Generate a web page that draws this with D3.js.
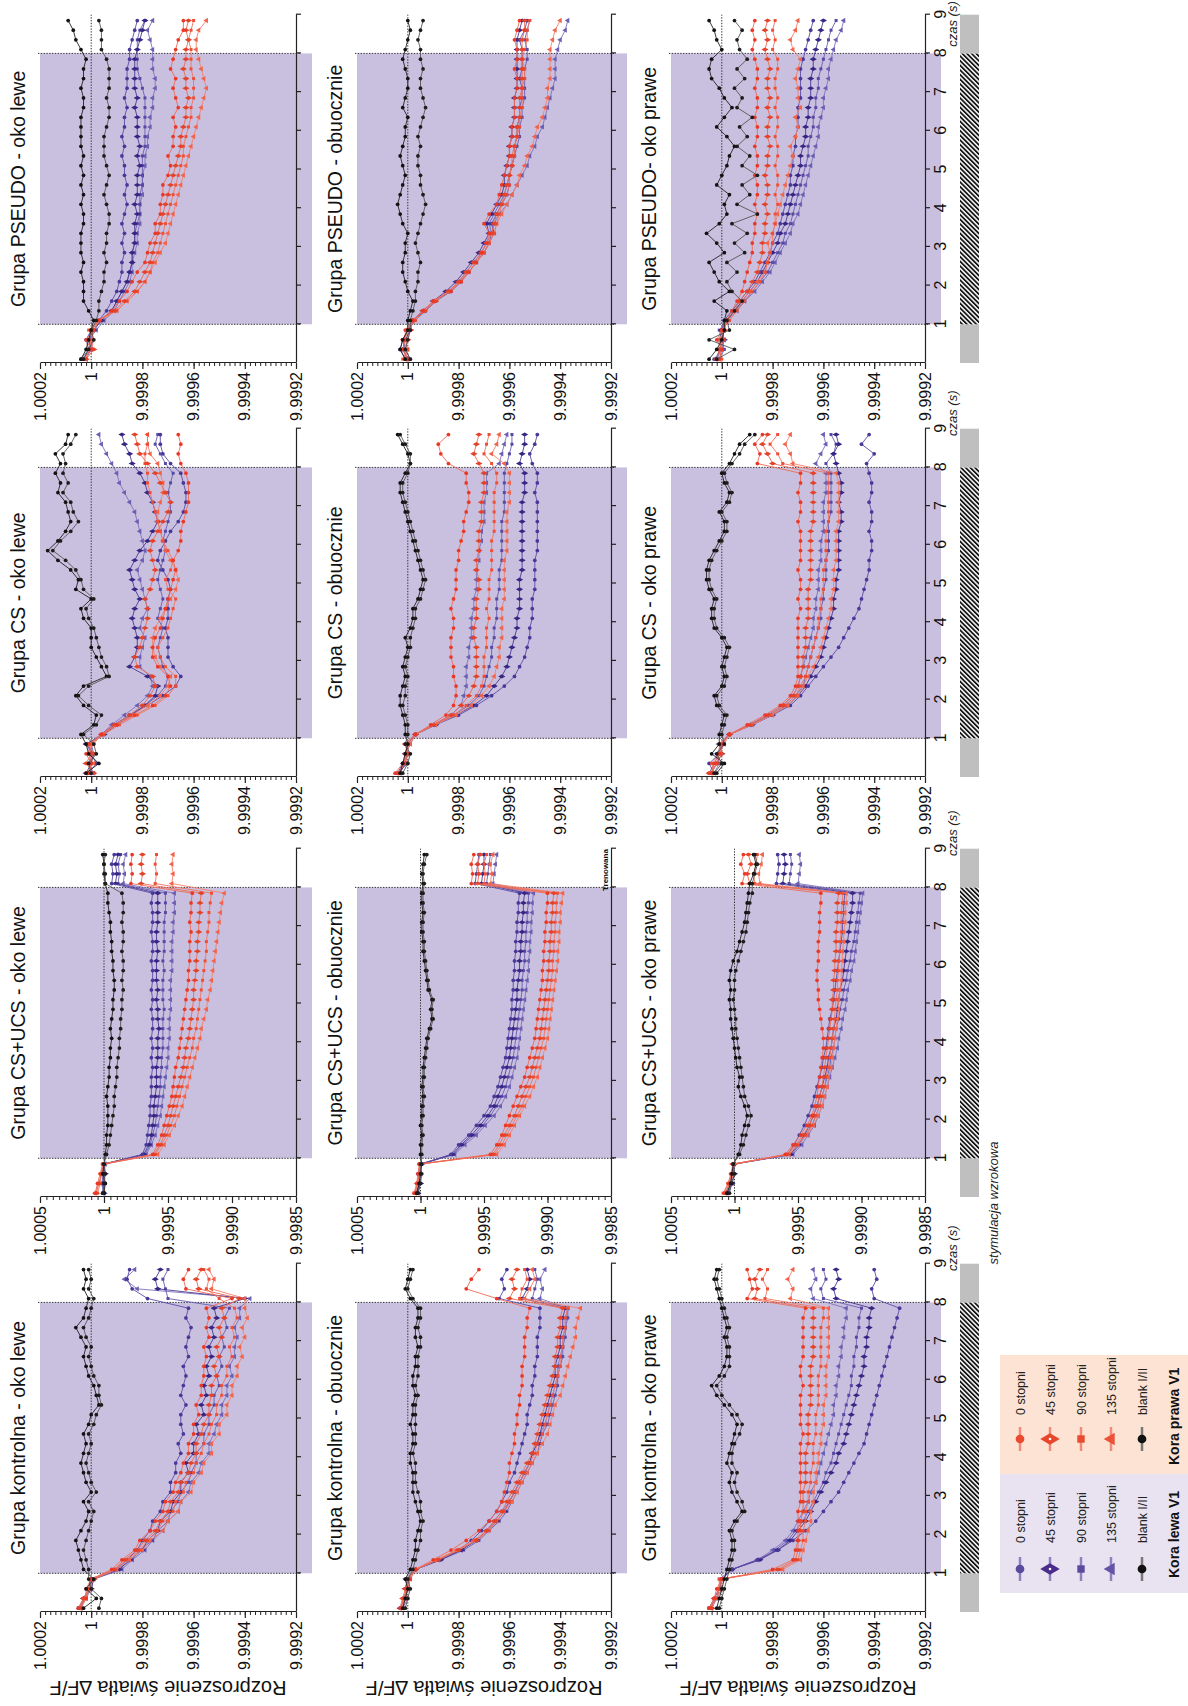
<!DOCTYPE html>
<html lang="pl">
<head>
<meta charset="utf-8">
<script src="https://cdn.jsdelivr.net/npm/d3@7/dist/d3.min.js"></script>
<style>
html,body{margin:0;padding:0;background:#fff;}
svg{display:block;}
text{font-family:"Liberation Sans",Arial,Helvetica,sans-serif;}
</style>
</head>
<body>
<svg id="chart" width="1188" height="1706"></svg>
<script>
// ---------- DATA ----------
const times = [0.1,0.35,0.6,0.85,1.1,1.35,1.6,1.85,2.1,2.35,2.6,2.85,3.1,3.35,3.6,3.85,4.1,4.35,4.6,4.85,5.1,5.35,5.6,5.85,6.1,6.35,6.6,6.85,7.1,7.35,7.6,7.85,8.1,8.35,8.6,8.85];
const panelTitles = [
  ["Grupa kontrolna - oko lewe","Grupa kontrolna - obuocznie","Grupa kontrolna - oko prawe"],
  ["Grupa CS+UCS - oko lewe","Grupa CS+UCS - obuocznie","Grupa CS+UCS - oko prawe"],
  ["Grupa CS - oko lewe","Grupa CS - obuocznie","Grupa CS - oko prawe"],
  ["Grupa PSEUDO - oko lewe","Grupa PSEUDO - obuocznie","Grupa PSEUDO- oko prawe"]
];
const smallTicks = [1.0002,1,0.9998,0.9996,0.9994,0.9992];
const smallTickLabels = ["1.0002","1","9.9998","9.9996","9.9994","9.9992"];
const largeTicks = [1.0005,1,0.9995,0.9990,0.9985];
const largeTickLabels = ["1.0005","1","9.9995","9.9990","9.9985"];
const timeTicks = [1,2,3,4,5,6,7,8,9];
const timeTickLabels = ["1","2","3","4","5","6","7","8","9"];
const legendLabels = ["0 stopni","45 stopni","90 stopni","135 stopni","blank I/II"];
const cortexNames = ["Kora lewa V1","Kora prawa V1"];
const yTitle = "Rozproszenie światła ∆F/F";

// Series values: deviation from 1 in units of 1e-5 (value = 1 + v*1e-5)
// order: L 0°, L 45°, L 90°, L 135°, L blank, R 0°, R 45°, R 90°, R 135°, R blank
const kontrolna_lewe = [
[5,3,1,-1,-10,-14,-18,-20,-23,-24,-27,-28,-31,-31,-33,-33,-35,-34,-36,-35,-35,-37,-35,-36,-37,-36,-38,-37,-38,-39,-37,-38,-22,-16,-14,-15],
[4,3,0,-1,-11,-15,-20,-22,-26,-27,-31,-32,-35,-35,-38,-37,-40,-40,-42,-41,-44,-43,-45,-44,-46,-45,-47,-46,-48,-47,-49,-48,-60,-26,-25,-27],
[5,2,1,0,-10,-16,-19,-24,-26,-30,-31,-34,-35,-38,-39,-41,-41,-44,-44,-46,-46,-48,-48,-50,-49,-51,-50,-52,-51,-53,-52,-54,-30,-29,-28,-30],
[4,2,0,-1,-12,-16,-21,-24,-28,-30,-34,-35,-38,-39,-42,-43,-46,-46,-48,-49,-51,-51,-53,-53,-55,-54,-56,-56,-57,-56,-58,-58,-62,-18,-13,-17],
[3,-2,2,-1,3,4,5,6,4,2,1,3,0,2,3,4,3,2,3,1,0,-3,-2,-1,1,2,3,2,4,6,3,2,1,3,2,3],
[5,2,2,0,-8,-12,-17,-19,-23,-25,-28,-29,-32,-33,-35,-36,-38,-38,-40,-40,-42,-41,-43,-43,-44,-44,-45,-44,-46,-45,-46,-45,-55,-37,-36,-38],
[4,3,1,-1,-9,-13,-18,-21,-25,-27,-30,-31,-34,-35,-38,-39,-41,-41,-43,-44,-46,-46,-47,-47,-49,-48,-50,-49,-51,-50,-52,-51,-58,-42,-41,-43],
[5,3,0,0,-9,-14,-19,-22,-26,-28,-32,-33,-36,-37,-40,-41,-43,-44,-46,-47,-49,-49,-51,-51,-53,-53,-55,-54,-56,-55,-57,-56,-50,-45,-46,-44],
[4,2,1,-1,-10,-15,-20,-23,-28,-30,-34,-35,-39,-40,-43,-44,-47,-47,-50,-50,-53,-53,-55,-55,-57,-57,-59,-58,-60,-59,-61,-60,-60,-47,-48,-46],
[-3,-4,0,1,1,2,3,2,1,0,-1,1,-2,0,1,2,1,0,1,-1,-2,-4,-3,-3,-1,0,1,0,2,3,1,0,-1,1,0,1]
];
const kontrolna_obuocznie = [
[2,1,0,0,-3,-12,-20,-25,-29,-32,-35,-37,-39,-40,-42,-43,-44,-45,-46,-47,-47,-48,-49,-49,-50,-50,-51,-51,-51,-52,-52,-52,-36,-38,-37,-39],
[3,1,1,0,-3,-13,-21,-27,-31,-35,-38,-40,-42,-44,-46,-48,-49,-51,-52,-53,-54,-55,-56,-57,-58,-58,-59,-60,-60,-61,-61,-62,-45,-47,-48,-47],
[2,0,1,0,-3,-13,-22,-28,-32,-36,-39,-41,-43,-45,-47,-49,-51,-52,-53,-55,-56,-57,-58,-59,-59,-60,-61,-61,-62,-62,-63,-63,-49,-50,-51,-50],
[3,2,0,1,-3,-12,-21,-27,-31,-34,-37,-40,-42,-44,-46,-48,-49,-51,-52,-54,-55,-56,-57,-58,-59,-59,-60,-61,-61,-62,-62,-63,-52,-53,-52,-54],
[2,1,0,1,-1,-2,-3,-3,-4,-5,-4,-3,-2,-2,-2,-1,-1,-2,-2,-1,-2,-2,-3,-2,-2,-3,-3,-4,-3,-3,-4,-4,-1,1,0,-1],
[3,1,0,-1,-3,-10,-17,-23,-28,-32,-35,-37,-38,-39,-40,-40,-41,-42,-42,-43,-43,-44,-44,-45,-45,-45,-46,-46,-46,-47,-47,-48,-35,-23,-25,-28],
[2,2,1,0,-3,-12,-20,-27,-31,-34,-37,-39,-41,-43,-45,-47,-49,-50,-51,-52,-53,-54,-55,-56,-57,-58,-58,-59,-59,-60,-60,-61,-40,-42,-41,-43],
[3,2,0,0,-3,-12,-20,-27,-32,-35,-38,-40,-42,-44,-46,-48,-50,-51,-53,-54,-55,-56,-57,-58,-59,-60,-60,-61,-61,-62,-62,-63,-44,-45,-47,-46],
[2,1,1,-1,-3,-11,-19,-26,-31,-35,-38,-41,-43,-45,-47,-49,-51,-53,-55,-56,-57,-58,-60,-61,-62,-63,-64,-65,-66,-66,-67,-68,-46,-48,-50,-49],
[1,0,-1,0,-2,-3,-4,-5,-5,-6,-5,-5,-4,-3,-3,-3,-2,-3,-3,-3,-3,-3,-4,-3,-4,-4,-4,-5,-5,-4,-5,-5,-2,0,-1,-2]
];
const kontrolna_prawe = [
[5,3,1,0,-4,-14,-22,-28,-33,-37,-40,-43,-46,-48,-50,-52,-54,-56,-57,-58,-59,-60,-61,-62,-63,-64,-65,-66,-67,-68,-69,-70,-60,-59,-61,-60],
[4,2,1,0,-4,-15,-22,-27,-30,-33,-35,-37,-39,-41,-43,-45,-46,-48,-49,-50,-51,-52,-53,-54,-55,-56,-56,-57,-57,-58,-58,-59,-45,-44,-46,-45],
[5,2,0,1,-4,-15,-21,-26,-29,-32,-34,-36,-38,-40,-41,-43,-44,-45,-46,-47,-48,-49,-50,-51,-51,-52,-52,-53,-53,-54,-54,-55,-40,-39,-41,-40],
[4,3,1,0,-4,-14,-20,-25,-28,-30,-32,-34,-35,-37,-38,-39,-40,-41,-42,-43,-44,-44,-45,-45,-46,-46,-47,-47,-48,-48,-49,-49,-36,-35,-37,-36],
[2,1,0,-1,-2,-3,-4,-4,-3,-5,-8,-6,-4,-3,-4,-2,-3,-4,-5,-6,-4,-1,2,4,1,-1,-2,-2,-1,-2,-1,0,1,2,3,2],
[5,3,2,0,-20,-28,-29,-30,-30,-30,-30,-31,-31,-31,-31,-31,-31,-31,-32,-31,-31,-31,-31,-32,-31,-31,-32,-32,-32,-32,-32,-33,-10,-12,-11,-10],
[4,3,1,0,-22,-29,-30,-30,-31,-31,-32,-32,-32,-33,-33,-33,-33,-34,-34,-34,-34,-35,-35,-35,-35,-35,-36,-36,-36,-36,-36,-36,-13,-14,-13,-15],
[5,2,1,1,-23,-30,-31,-32,-32,-33,-33,-34,-34,-35,-35,-36,-36,-36,-37,-37,-37,-38,-38,-38,-38,-39,-39,-39,-39,-39,-40,-40,-17,-18,-16,-18],
[4,2,0,0,-24,-31,-32,-33,-34,-35,-35,-36,-36,-37,-37,-38,-38,-39,-39,-40,-40,-40,-41,-41,-41,-41,-42,-42,-42,-42,-42,-42,-27,-28,-26,-28],
[1,0,-1,-2,-3,-4,-5,-5,-4,-6,-9,-8,-6,-5,-6,-4,-4,-5,-7,-8,-6,-3,0,2,-1,-3,-3,-3,-2,-3,-2,-1,0,1,2,1]
];
const csucs_lewe = [
[1,0,2,0,-30,-33,-34,-35,-36,-36,-37,-37,-37,-38,-37,-38,-37,-38,-38,-37,-38,-37,-38,-38,-37,-38,-38,-37,-38,-38,-37,-38,-6,-7,-6,-8],
[0,1,-1,0,-31,-35,-37,-38,-39,-39,-40,-41,-41,-41,-42,-42,-42,-43,-42,-42,-41,-42,-41,-41,-41,-42,-41,-41,-42,-42,-42,-42,-9,-10,-9,-11],
[1,-1,0,1,-32,-36,-38,-40,-41,-42,-43,-44,-44,-45,-45,-46,-46,-46,-46,-47,-46,-46,-46,-47,-46,-47,-47,-47,-47,-48,-48,-48,-11,-12,-11,-13],
[0,2,0,-1,-33,-37,-40,-42,-44,-45,-46,-47,-48,-49,-50,-50,-51,-51,-51,-52,-52,-52,-52,-53,-53,-53,-53,-54,-54,-55,-55,-55,-15,-16,-15,-17],
[0,-1,1,0,-1,-2,-2,-3,-3,-3,-2,-3,-4,-4,-5,-5,-6,-5,-6,-7,-7,-8,-8,-7,-7,-6,-6,-5,-5,-4,-3,-3,-1,0,0,1],
[7,5,3,1,-38,-42,-45,-47,-49,-51,-53,-54,-55,-56,-58,-59,-60,-61,-62,-63,-64,-65,-66,-66,-67,-67,-67,-68,-67,-68,-68,-69,-21,-22,-21,-22],
[6,4,2,0,-39,-44,-47,-50,-52,-54,-56,-58,-60,-62,-63,-64,-66,-67,-68,-69,-70,-70,-71,-72,-72,-73,-73,-74,-74,-75,-75,-76,-29,-30,-29,-30],
[5,3,2,1,-40,-45,-49,-52,-55,-57,-59,-61,-63,-65,-67,-69,-70,-72,-73,-74,-75,-76,-77,-78,-79,-80,-80,-81,-82,-82,-83,-84,-40,-41,-40,-41],
[7,4,2,0,-42,-47,-51,-55,-58,-61,-63,-65,-67,-69,-71,-73,-75,-76,-78,-80,-81,-83,-84,-85,-86,-87,-88,-89,-90,-91,-92,-94,-53,-54,-53,-54],
[1,0,-1,0,-2,-4,-5,-6,-7,-8,-8,-9,-10,-10,-11,-12,-12,-13,-13,-14,-14,-15,-14,-15,-15,-14,-15,-15,-14,-15,-15,-14,-1,-1,0,-1]
];
const csucs_obuocznie = [
[3,1,2,0,-24,-30,-38,-44,-50,-55,-58,-61,-63,-65,-67,-68,-69,-70,-71,-72,-72,-73,-73,-74,-74,-75,-75,-76,-76,-77,-77,-78,-43,-44,-45,-46],
[2,0,1,-1,-25,-32,-40,-47,-53,-58,-61,-64,-66,-68,-70,-71,-72,-73,-74,-75,-76,-76,-77,-78,-78,-79,-79,-80,-80,-81,-81,-82,-48,-49,-50,-50],
[3,1,0,1,-26,-33,-42,-49,-55,-60,-64,-67,-69,-71,-73,-74,-75,-76,-77,-78,-79,-80,-80,-81,-82,-82,-83,-83,-84,-84,-85,-85,-52,-53,-54,-55],
[2,2,0,0,-27,-35,-44,-51,-58,-63,-67,-70,-72,-74,-76,-77,-78,-79,-80,-81,-82,-83,-84,-85,-85,-86,-86,-87,-87,-88,-88,-89,-57,-58,-59,-60],
[3,1,0,-1,0,0,-1,0,-1,-1,-2,-1,-2,-2,-3,-4,-5,-7,-9,-8,-9,-6,-5,-4,-3,-2,-2,-1,-1,-2,-1,-1,-2,-1,-2,-3],
[5,3,2,1,-55,-60,-64,-67,-70,-73,-76,-79,-82,-84,-86,-88,-90,-91,-92,-93,-94,-95,-96,-96,-97,-97,-98,-98,-99,-99,-100,-100,-40,-41,-40,-42],
[4,2,1,0,-57,-62,-66,-70,-74,-77,-80,-83,-86,-88,-90,-92,-94,-95,-96,-97,-98,-99,-100,-101,-101,-102,-102,-103,-103,-104,-104,-105,-45,-46,-45,-47],
[5,2,0,1,-58,-64,-68,-72,-76,-80,-83,-86,-89,-91,-93,-95,-97,-98,-99,-100,-101,-102,-103,-104,-104,-105,-105,-106,-106,-107,-107,-108,-50,-51,-50,-52],
[4,3,1,0,-60,-66,-70,-74,-78,-82,-86,-89,-92,-94,-96,-98,-100,-101,-102,-103,-104,-105,-106,-107,-108,-108,-109,-109,-110,-110,-111,-112,-55,-56,-55,-57],
[2,0,-1,0,-1,-1,-2,-1,-2,-2,-3,-2,-3,-3,-4,-5,-6,-8,-10,-9,-10,-7,-6,-5,-4,-3,-3,-2,-2,-3,-2,-2,-3,-2,-3,-5]
];
const csucs_prawe = [
[6,3,1,0,-42,-47,-51,-55,-58,-61,-63,-65,-67,-69,-70,-72,-73,-74,-75,-77,-78,-79,-80,-81,-82,-83,-84,-85,-85,-86,-86,-87,-33,-34,-35,-34],
[5,2,0,1,-44,-50,-55,-59,-62,-65,-67,-69,-71,-73,-74,-76,-77,-78,-80,-81,-82,-83,-85,-86,-87,-88,-89,-90,-91,-92,-93,-93,-38,-39,-40,-39],
[7,4,2,1,-45,-51,-56,-61,-64,-67,-69,-71,-73,-75,-76,-78,-79,-80,-82,-83,-85,-86,-88,-89,-91,-92,-94,-95,-96,-97,-98,-99,-43,-44,-45,-44],
[6,2,1,0,-46,-53,-58,-63,-66,-69,-71,-73,-75,-77,-79,-81,-82,-84,-85,-87,-88,-89,-91,-92,-94,-95,-96,-97,-98,-99,-100,-101,-50,-51,-52,-51],
[6,3,2,1,-3,-5,-6,-8,-10,-8,-5,-3,-4,-2,-1,0,1,2,3,3,4,3,4,3,1,-2,-4,-6,-8,-9,-10,-11,-12,-15,-17,-15],
[8,5,3,1,-40,-46,-52,-57,-61,-63,-65,-66,-67,-68,-69,-70,-70,-69,-68,-67,-66,-66,-65,-65,-66,-66,-66,-67,-67,-67,-68,-68,-6,-8,-5,-7],
[7,4,2,0,-41,-48,-54,-59,-62,-65,-67,-69,-70,-71,-72,-73,-74,-75,-76,-77,-77,-78,-78,-79,-79,-80,-80,-80,-81,-81,-81,-82,-12,-10,-13,-11],
[9,5,2,1,-42,-49,-56,-61,-64,-67,-69,-71,-72,-74,-75,-76,-77,-78,-79,-79,-80,-81,-81,-82,-82,-83,-83,-84,-84,-84,-85,-85,-16,-15,-17,-18],
[7,3,1,2,-43,-50,-57,-62,-66,-69,-71,-73,-74,-76,-77,-78,-79,-80,-81,-82,-82,-83,-84,-84,-85,-85,-86,-86,-87,-87,-88,-88,-20,-19,-21,-22],
[4,2,0,1,-4,-7,-9,-11,-13,-11,-8,-7,-6,-5,-4,-3,-2,-1,-1,0,1,0,0,-1,-3,-5,-7,-9,-10,-11,-12,-14,-14,-16,-18,-16]
];
const cs_lewe = [
[1,-2,0,1,-5,-9,-15,-22,-28,-33,-35,-32,-30,-30,-30,-29,-30,-30,-30,-31,-30,-28,-26,-27,-29,-31,-34,-36,-37,-37,-36,-35,-31,-28,-27,-27],
[2,0,-1,2,-5,-10,-16,-21,-25,-26,-22,-15,-17,-18,-18,-17,-16,-17,-19,-17,-16,-15,-17,-19,-22,-24,-26,-25,-24,-22,-21,-19,-16,-15,-13,-12],
[0,1,-1,0,-4,-9,-15,-21,-26,-29,-30,-28,-27,-26,-27,-28,-26,-27,-28,-27,-26,-27,-28,-29,-28,-29,-30,-31,-31,-30,-31,-32,-29,-27,-25,-26],
[-1,1,0,2,-4,-8,-13,-18,-22,-24,-23,-19,-19,-20,-21,-19,-20,-22,-21,-20,-19,-18,-20,-21,-20,-19,-18,-17,-15,-13,-11,-10,-8,-6,-4,-3],
[2,-3,1,2,4,-1,-2,3,6,3,-6,-4,-2,0,0,0,3,4,0,6,5,8,13,17,13,10,8,9,10,13,12,14,12,14,10,9],
[1,0,2,-1,-4,-10,-17,-24,-29,-31,-30,-26,-24,-24,-25,-27,-28,-29,-30,-31,-32,-33,-32,-34,-35,-35,-36,-37,-38,-38,-38,-37,-35,-34,-35,-34],
[-1,2,0,1,-4,-9,-15,-20,-23,-25,-24,-18,-17,-19,-20,-21,-22,-22,-21,-23,-24,-25,-24,-23,-24,-26,-28,-30,-31,-29,-27,-25,-22,-19,-18,-17],
[0,1,-1,1,-5,-11,-18,-25,-30,-33,-33,-29,-27,-26,-28,-30,-31,-32,-33,-30,-29,-31,-32,-30,-28,-27,-26,-25,-24,-23,-22,-22,-21,-21,-22,-22],
[2,-1,1,0,-4,-10,-16,-22,-27,-30,-31,-27,-25,-24,-24,-25,-27,-29,-31,-33,-34,-33,-31,-29,-28,-27,-26,-26,-27,-28,-28,-27,-26,-23,-22,-22],
[0,1,-2,-1,3,-2,-4,1,5,1,-7,-6,-4,-3,-2,-1,1,2,-1,3,4,6,10,15,12,8,5,7,8,11,9,11,10,11,8,6]
];
const cs_obuocznie = [
[4,2,0,1,-3,-11,-20,-27,-33,-38,-42,-44,-46,-47,-48,-48,-49,-49,-49,-50,-50,-50,-50,-51,-51,-51,-51,-51,-51,-50,-51,-51,-49,-48,-50,-51],
[3,1,1,0,-3,-11,-19,-26,-31,-34,-37,-39,-40,-41,-42,-43,-43,-44,-44,-44,-44,-45,-45,-45,-45,-45,-45,-45,-45,-46,-46,-46,-44,-45,-46,-46],
[4,0,1,-1,-3,-10,-18,-24,-28,-30,-31,-32,-33,-33,-34,-34,-35,-35,-35,-36,-36,-36,-37,-37,-37,-37,-37,-38,-38,-38,-38,-38,-39,-40,-41,-41],
[3,2,0,0,-3,-10,-17,-21,-22,-23,-23,-23,-24,-24,-25,-25,-25,-26,-26,-27,-27,-27,-28,-28,-29,-29,-30,-30,-30,-31,-31,-31,-36,-37,-38,-39],
[3,2,1,0,1,1,2,3,3,2,1,2,1,0,1,-1,-2,-2,-4,-5,-6,-5,-4,-3,-2,-1,0,1,2,3,3,1,-1,0,2,4],
[5,2,1,0,-3,-9,-15,-18,-19,-19,-18,-18,-17,-17,-17,-18,-18,-17,-18,-19,-19,-19,-20,-20,-21,-22,-22,-23,-24,-24,-23,-23,-16,-13,-12,-16],
[4,1,0,1,-3,-10,-17,-21,-24,-26,-27,-27,-27,-27,-26,-26,-27,-27,-27,-28,-28,-27,-27,-28,-28,-28,-29,-29,-29,-30,-30,-30,-28,-26,-27,-28],
[3,2,0,0,-3,-10,-18,-23,-27,-29,-30,-30,-30,-31,-31,-31,-32,-31,-32,-32,-32,-33,-33,-33,-33,-34,-34,-34,-34,-34,-35,-35,-33,-30,-31,-32],
[4,1,1,-1,-3,-11,-19,-25,-29,-32,-34,-35,-36,-36,-37,-37,-37,-37,-38,-38,-38,-38,-38,-39,-39,-39,-39,-39,-40,-40,-40,-40,-38,-33,-35,-36],
[2,0,-1,1,0,0,1,2,1,1,0,1,0,-1,-1,-2,-3,-3,-5,-6,-7,-6,-5,-4,-3,-2,-1,0,1,2,2,0,-1,-1,1,3]
];
const cs_prawe = [
[3,5,1,0,-3,-12,-20,-27,-31,-34,-37,-40,-43,-46,-48,-50,-52,-54,-55,-56,-57,-58,-58,-59,-59,-58,-59,-59,-58,-59,-59,-58,-57,-60,-55,-58],
[4,2,0,1,-3,-12,-20,-26,-30,-33,-35,-37,-39,-40,-41,-42,-43,-44,-44,-45,-45,-46,-46,-46,-46,-46,-47,-47,-46,-47,-47,-46,-45,-44,-46,-45],
[5,3,1,0,-3,-11,-19,-25,-29,-32,-33,-34,-35,-36,-37,-38,-39,-39,-40,-40,-41,-41,-41,-42,-42,-42,-42,-43,-43,-43,-43,-43,-41,-44,-45,-43],
[3,1,2,0,-3,-11,-18,-24,-28,-30,-31,-32,-33,-34,-35,-36,-36,-37,-37,-38,-38,-38,-39,-39,-39,-40,-40,-40,-40,-41,-41,-41,-37,-39,-41,-40],
[2,-1,4,1,1,0,-1,2,3,0,-1,0,-1,-2,0,3,4,4,3,5,6,6,5,3,1,-1,-1,1,-2,-3,-1,0,-3,-5,-7,-11],
[4,3,1,1,-3,-10,-17,-23,-27,-29,-30,-30,-30,-30,-30,-30,-30,-31,-30,-31,-31,-30,-31,-31,-31,-31,-30,-31,-31,-30,-31,-31,-14,-15,-13,-16],
[5,2,0,0,-3,-11,-18,-24,-28,-30,-31,-32,-32,-33,-33,-33,-34,-34,-34,-34,-35,-35,-35,-35,-35,-35,-36,-36,-36,-36,-36,-36,-20,-18,-16,-18],
[3,4,1,0,-3,-12,-19,-25,-29,-31,-33,-34,-35,-36,-37,-38,-38,-39,-39,-40,-40,-40,-41,-41,-41,-41,-42,-42,-42,-42,-42,-42,-24,-22,-19,-22],
[4,2,1,-1,-3,-12,-20,-26,-30,-32,-34,-36,-38,-39,-40,-41,-42,-43,-43,-44,-44,-44,-45,-45,-45,-45,-46,-46,-46,-46,-46,-45,-28,-27,-25,-27],
[3,0,2,-1,0,-1,-2,1,2,-1,-2,-1,-2,-3,-1,2,3,3,2,4,5,5,4,2,0,-2,-2,0,-3,-4,-2,-1,-4,-7,-9,-13]
];
const pseudo_lewe = [
[4,1,2,0,-3,-6,-8,-10,-11,-12,-12,-13,-12,-13,-12,-13,-14,-13,-14,-13,-13,-12,-13,-12,-13,-13,-14,-13,-14,-14,-14,-15,-15,-16,-17,-18],
[3,0,1,-1,-4,-8,-10,-12,-14,-15,-16,-16,-17,-17,-17,-18,-17,-18,-18,-18,-19,-18,-19,-18,-18,-18,-17,-18,-17,-17,-17,-17,-18,-19,-20,-21],
[3,1,0,-1,-4,-8,-10,-12,-14,-15,-16,-16,-17,-17,-18,-19,-19,-19,-20,-20,-20,-20,-21,-21,-21,-21,-21,-21,-20,-19,-18,-18,-18,-18,-19,-21],
[2,0,1,-2,-5,-9,-11,-13,-15,-16,-16,-17,-18,-18,-19,-19,-19,-20,-20,-20,-21,-21,-22,-22,-23,-23,-24,-24,-25,-25,-24,-24,-24,-23,-22,-24],
[4,2,1,0,-1,1,3,3,3,4,3,4,4,4,3,3,4,3,4,3,4,3,4,4,4,4,3,3,4,3,3,2,4,6,7,9],
[3,0,2,-1,-3,-8,-11,-14,-16,-18,-21,-22,-23,-25,-25,-27,-27,-28,-28,-30,-31,-30,-32,-32,-33,-32,-34,-33,-32,-33,-31,-32,-33,-34,-36,-36],
[2,-1,1,0,-3,-9,-13,-17,-19,-21,-23,-24,-25,-26,-27,-28,-29,-30,-31,-32,-33,-34,-35,-35,-36,-37,-37,-38,-37,-37,-36,-37,-37,-38,-37,-38],
[3,0,-1,1,-3,-10,-14,-18,-21,-23,-24,-26,-27,-28,-29,-30,-31,-32,-33,-34,-35,-36,-36,-37,-38,-39,-39,-40,-40,-40,-39,-39,-39,-38,-39,-40],
[2,1,0,-1,-3,-10,-14,-18,-21,-23,-25,-27,-29,-30,-31,-32,-33,-34,-35,-36,-37,-38,-39,-40,-41,-42,-43,-44,-45,-44,-43,-42,-41,-41,-42,-45],
[3,1,-1,0,-2,-3,-3,-4,-5,-5,-6,-5,-6,-6,-7,-7,-6,-5,-6,-7,-6,-5,-5,-5,-6,-7,-7,-6,-7,-7,-7,-6,-4,-4,-4,-3]
];
const pseudo_obuocznie = [
[1,3,2,0,-2,-7,-11,-17,-21,-24,-27,-30,-32,-34,-33,-35,-37,-39,-40,-40,-41,-42,-42,-43,-43,-44,-44,-45,-45,-44,-45,-45,-45,-44,-46,-47],
[0,2,1,-1,-2,-6,-10,-15,-19,-22,-25,-28,-30,-32,-31,-33,-35,-37,-38,-38,-39,-40,-40,-41,-41,-42,-42,-42,-43,-43,-43,-43,-43,-43,-44,-45],
[-1,1,2,0,-3,-7,-11,-16,-20,-24,-27,-30,-32,-33,-32,-34,-36,-38,-39,-40,-41,-42,-43,-44,-44,-45,-45,-46,-46,-46,-46,-47,-47,-46,-47,-48],
[0,2,1,0,-2,-6,-10,-16,-20,-23,-26,-29,-31,-33,-34,-36,-39,-41,-43,-45,-47,-48,-50,-51,-53,-54,-55,-56,-57,-58,-58,-58,-59,-60,-62,-63],
[1,3,2,0,0,-1,-2,0,1,2,2,1,1,0,2,3,4,3,2,1,2,3,2,1,1,0,2,1,0,0,1,2,1,0,-1,0],
[0,2,1,1,-2,-6,-10,-17,-21,-24,-27,-29,-31,-32,-30,-32,-35,-36,-37,-38,-39,-40,-40,-41,-41,-42,-42,-42,-43,-43,-42,-43,-43,-42,-43,-44],
[1,1,0,-1,-2,-6,-11,-16,-20,-23,-26,-29,-31,-33,-34,-35,-37,-38,-39,-40,-41,-41,-42,-43,-43,-44,-44,-44,-45,-45,-45,-45,-45,-45,-46,-46],
[2,0,1,0,-3,-7,-11,-16,-21,-24,-27,-30,-32,-34,-35,-36,-37,-39,-40,-40,-41,-42,-42,-43,-44,-44,-45,-45,-45,-46,-46,-45,-46,-47,-47,-48],
[1,0,2,0,-2,-6,-10,-16,-20,-24,-27,-30,-32,-34,-35,-37,-39,-41,-43,-44,-46,-47,-49,-50,-51,-53,-54,-55,-55,-56,-56,-56,-56,-57,-58,-60],
[-1,1,0,-1,-1,-2,-3,-3,-4,-4,-5,-4,-3,-4,-5,-6,-7,-6,-5,-5,-4,-4,-5,-4,-5,-6,-7,-6,-5,-5,-6,-5,-5,-4,-5,-6]
];
const pseudo_prawe = [
[3,0,1,0,-1,-4,-7,-10,-13,-15,-17,-19,-20,-22,-23,-24,-25,-26,-27,-27,-28,-28,-29,-29,-30,-30,-30,-31,-31,-31,-31,-32,-33,-34,-35,-36],
[2,1,-1,0,-2,-5,-8,-11,-14,-16,-18,-20,-22,-23,-25,-26,-27,-28,-29,-30,-31,-31,-32,-33,-33,-34,-34,-35,-35,-35,-36,-36,-37,-38,-39,-40],
[1,-1,0,1,-2,-5,-9,-12,-15,-18,-20,-22,-24,-25,-27,-28,-29,-30,-31,-32,-33,-34,-34,-35,-36,-36,-37,-37,-38,-38,-39,-40,-41,-42,-43,-45],
[2,0,-1,0,-2,-6,-9,-13,-16,-19,-21,-23,-25,-27,-28,-30,-31,-32,-33,-34,-35,-36,-37,-38,-38,-39,-40,-40,-41,-42,-42,-43,-44,-45,-47,-48],
[5,2,0,-1,-1,-2,3,-3,1,3,5,-1,2,6,1,-2,-1,-3,2,0,-2,-3,-5,-2,2,-1,-4,-1,1,4,5,4,0,2,3,5],
[1,0,2,0,-2,-4,-6,-8,-9,-10,-11,-12,-12,-13,-13,-14,-13,-14,-14,-13,-14,-14,-13,-14,-14,-13,-14,-14,-13,-14,-14,-13,-12,-13,-12,-13],
[2,1,0,-1,-2,-5,-7,-10,-12,-14,-15,-16,-16,-17,-17,-18,-17,-18,-18,-17,-18,-18,-19,-18,-18,-19,-18,-19,-18,-18,-19,-18,-17,-18,-17,-18],
[0,1,-1,0,-3,-6,-9,-12,-15,-17,-18,-19,-20,-20,-21,-21,-22,-21,-22,-22,-21,-22,-22,-21,-22,-22,-21,-22,-21,-21,-22,-22,-20,-21,-20,-21],
[1,0,1,-1,-2,-5,-8,-11,-14,-17,-18,-19,-18,-20,-21,-22,-23,-24,-25,-26,-27,-28,-27,-29,-30,-29,-31,-30,-30,-29,-30,-31,-28,-27,-29,-30],
[2,-5,5,-3,-2,-5,-8,-4,-2,-6,-2,-9,-5,-10,-4,-14,-6,-11,-8,-14,-8,-11,-6,-10,-7,-12,-6,-8,-5,-9,-6,-10,-7,-6,-8,-5]
];

// ---------- LAYOUT (unrotated figure 1706 x 1188, then turned 90° CCW) ----------
const FIG_W = 1706;
const groupX0 = [94, 509, 929, 1343];
const secPx = 38.7;
const rowTop = [40, 357, 671];
const rowBot = [296, 611, 925];
const panelData = [
  [kontrolna_lewe, kontrolna_obuocznie, kontrolna_prawe],
  [csucs_lewe, csucs_obuocznie, csucs_prawe],
  [cs_lewe, cs_obuocznie, cs_prawe],
  [pseudo_lewe, pseudo_obuocznie, pseudo_prawe]
];
const shapes = [d3.symbolCircle, d3.symbolDiamond, d3.symbolSquare, d3.symbolTriangle, d3.symbolCircle,
                d3.symbolCircle, d3.symbolDiamond, d3.symbolSquare, d3.symbolTriangle, d3.symbolCircle];
const shapeSize = [11, 15, 9, 12, 11, 11, 15, 9, 12, 11];
const colors = ["#47389a","#382685","#5648a3","#6a5fb2","#111111","#ea3826","#e4432a","#ef4e35","#f2634a","#1c1c1c"];
const lineColors = ["#5a4ca6","#4a3993","#6a5db0","#7d73bd","#222222","#ef6a58","#ec6a55","#f27462","#f5826d","#555555"];
const drawOrder = [3,2,1,0,8,7,6,5,4,9];

const svg = d3.select("#chart");
const defs = svg.append("defs");
const pat = defs.append("pattern").attr("id","hatch").attr("patternUnits","userSpaceOnUse")
  .attr("width",3.3).attr("height",3.3).attr("patternTransform","rotate(45)");
pat.append("rect").attr("width",3.3).attr("height",3.3).attr("fill","#ffffff");
pat.append("rect").attr("width",1.8).attr("height",3.3).attr("fill","#151515");

const root = svg.append("g").attr("transform",`translate(0,${FIG_W}) rotate(-90)`);

function drawPanel(gi, ri){
  const x0 = groupX0[gi];
  const x = d3.scaleLinear().domain([0,9]).range([x0, x0 + 9*secPx]);
  const big = gi === 1;
  const y = d3.scaleLinear().domain(big ? [0.9985,1.0005] : [0.9992,1.0002]).range([rowBot[ri], rowTop[ri]]);
  const p = root.append("g");

  p.append("rect").attr("x", x(1)).attr("y", rowTop[ri])
    .attr("width", x(8)-x(1)).attr("height", rowBot[ri]-rowTop[ri]+16)
    .attr("fill","#c9c0df");

  [1,8].forEach(t => p.append("line")
    .attr("x1",x(t)).attr("x2",x(t)).attr("y1",rowTop[ri]-2).attr("y2",rowBot[ri]+4)
    .attr("stroke","#333").attr("stroke-width",1).attr("stroke-dasharray","1.4,1.4"));
  p.append("line").attr("x1",x(0)).attr("x2",x(9)).attr("y1",y(1)).attr("y2",y(1))
    .attr("stroke","#333").attr("stroke-width",1).attr("stroke-dasharray","1.4,1.4");

  p.append("g").attr("transform",`translate(${x(0)},0)`)
    .call(d3.axisLeft(y).tickValues(y.ticks(big?40:50)).tickSize(3).tickSizeOuter(0).tickFormat(""))
    .call(g => g.select(".domain").remove())
    .selectAll("line").attr("stroke","#222");
  const tv = big ? largeTicks : smallTicks;
  const tl = big ? largeTickLabels : smallTickLabels;
  const ya = p.append("g").attr("transform",`translate(${x(0)},0)`)
    .call(d3.axisLeft(y).tickValues(tv).tickFormat((d,i)=>tl[i]).tickSize(6).tickSizeOuter(0).tickPadding(3));
  ya.attr("font-size",16);
  ya.selectAll("line,path").attr("stroke","#222").attr("stroke-width",1.2);
  ya.selectAll("text").attr("fill","#111");

  const xa = p.append("g").attr("transform",`translate(0,${rowBot[ri]})`)
    .call(d3.axisBottom(x).tickValues(timeTicks).tickSize(5).tickSizeOuter(0).tickPadding(5)
      .tickFormat((d,i)=> ri===2 ? timeTickLabels[i] : ""));
  xa.attr("font-size",16);
  xa.selectAll("line,path").attr("stroke","#222").attr("stroke-width",1.2);
  xa.selectAll("text").attr("fill","#111");

  p.append("text").attr("x", x(4.5)).attr("y", rowTop[ri]-15)
    .attr("text-anchor","middle").attr("font-size",19.5).attr("fill","#111")
    .text(panelTitles[gi][ri]);

  if (gi===1 && ri===1){
    p.append("text").attr("x", x(8.45)).attr("y", rowBot[ri]-3)
      .attr("text-anchor","middle").attr("font-size",8).attr("font-weight","bold").attr("fill","#111")
      .text("Trenowana");
  }

  const data = panelData[gi][ri];
  const line = d3.line().x(d=>x(d[0])).y(d=>y(1 + d[1]*1e-5));
  drawOrder.forEach(si => {
    const vals = data[si];
    const pts = times.slice(0, vals.length).map((t,k)=>[t, vals[k]]);
    p.append("path").attr("d", line(pts)).attr("fill","none")
      .attr("stroke", lineColors[si]).attr("stroke-width",1).attr("stroke-opacity",0.9);
    const sym = d3.symbol().type(shapes[si]).size(shapeSize[si]);
    p.append("g").selectAll("path").data(pts).join("path")
      .attr("transform", d=>`translate(${x(d[0])},${y(1 + d[1]*1e-5)})`)
      .attr("d", sym).attr("fill", colors[si]);
  });
}

for (let gi=0; gi<4; gi++) for (let ri=0; ri<3; ri++) drawPanel(gi, ri);

// y-axis titles
rowTop.forEach((rt,ri)=>{
  root.append("text").attr("transform",`translate(25,${(rt+rowBot[ri])/2}) rotate(-90)`)
    .attr("text-anchor","middle").attr("font-size",20).attr("fill","#111").text(yTitle);
});

// stimulation bars + time-axis captions
groupX0.forEach((x0,gi)=>{
  const x = d3.scaleLinear().domain([0,9]).range([x0, x0 + 9*secPx]);
  root.append("rect").attr("x",x(0)).attr("y",960).attr("width",x(1)-x(0)).attr("height",19).attr("fill","#bfbfbf");
  root.append("rect").attr("x",x(1)).attr("y",960).attr("width",x(8)-x(1)).attr("height",19).attr("fill","url(#hatch)");
  root.append("rect").attr("x",x(8)).attr("y",960).attr("width",x(9)-x(8)).attr("height",19).attr("fill","#bfbfbf");
  const cx = Math.min(x(9.4), FIG_W - 24);
  root.append("text").attr("x",cx).attr("y",957).attr("text-anchor","middle")
    .attr("font-size",13).attr("font-style","italic").attr("fill","#222").text("czas (s)");
});
root.append("text").attr("x",503).attr("y",998).attr("text-anchor","middle")
  .attr("font-size",13).attr("font-style","italic").attr("fill","#222").text("stymulacja wzrokowa");

// legend
const boxX = [113, 232], boxFill = ["#e9e3f1","#fde3d3"];
const symX = [137, 267], txtX = [163, 291], titleX = [128, 241];
const rowY = [1020,1050,1081,1111,1142];
const legShapes = [d3.symbolCircle, d3.symbolDiamond, d3.symbolSquare, d3.symbolTriangle, d3.symbolCircle];
const legSizes = [60, 110, 55, 70, 60];
const legColors = [["#5a4a9e","#4a2c8c","#5a4a9e","#6354a6","#111"],["#ea4a30","#e8452c","#ea4a30","#ec5238","#111"]];
const legLine = [["#8b82c0","#8b82c0","#8b82c0","#8b82c0","#777"],["#f28a78","#f28a78","#f28a78","#f28a78","#777"]];
[0,1].forEach(b=>{
  root.append("rect").attr("x",boxX[b]).attr("y",1000).attr("width",119).attr("height",188).attr("fill",boxFill[b]);
  legendLabels.forEach((lab,k)=>{
    root.append("line").attr("x1",symX[b]-12).attr("x2",symX[b]+12).attr("y1",rowY[k]).attr("y2",rowY[k])
      .attr("stroke",legLine[b][k]).attr("stroke-width",2.5);
    root.append("path").attr("transform",`translate(${symX[b]},${rowY[k]})`)
      .attr("d", d3.symbol().type(legShapes[k]).size(legSizes[k])).attr("fill",legColors[b][k]);
    if (k===1) root.append("circle").attr("cx",symX[b]).attr("cy",rowY[k]).attr("r",1.3).attr("fill","#fff");
    root.append("text").attr("x",txtX[b]).attr("y",rowY[k]+4.5).attr("font-size",12.5).attr("fill","#222").text(lab);
  });
  root.append("text").attr("x",titleX[b]).attr("y",1179).attr("font-size",14).attr("font-weight","bold")
    .attr("fill","#111").text(cortexNames[b]);
});
</script>
</body>
</html>
